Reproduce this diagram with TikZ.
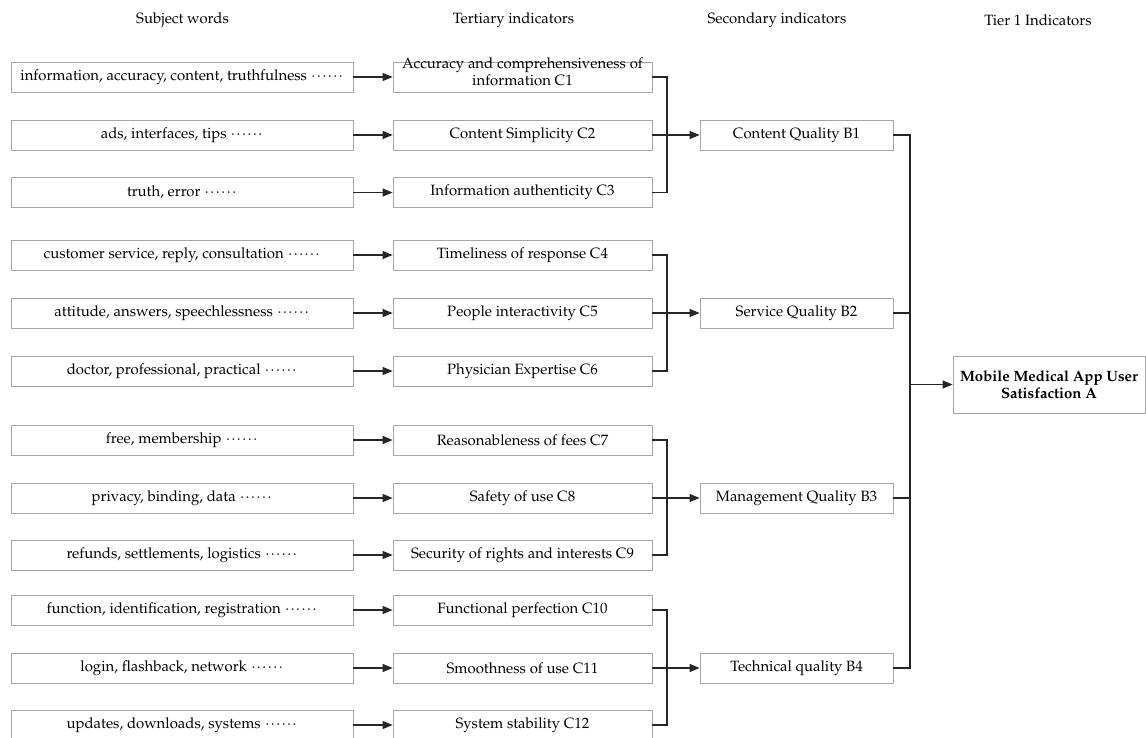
\documentclass[tikz,border=0pt]{standalone}
\usepackage[T1]{fontenc}
\usepackage{mathpazo}
\usetikzlibrary{arrows.meta}
\newcommand{\sixdots}{\mbox{\foreach \k in {1,...,6}{\makebox[4.1pt]{$\cdot$}}}}
\begin{document}
\begin{tikzpicture}[x=0.75pt,y=-0.75pt,
  every node/.style={font=\fontsize{11.2}{13}\selectfont},
  box/.style={draw=black!35,line width=0.6pt,inner sep=0pt,minimum height=22.5pt,align=center},
  lbox/.style={box,minimum width=256.5pt},
  cbox/.style={box,minimum width=194.25pt},
  bbox/.style={box,minimum width=144.75pt},
  abox/.style={box,minimum width=144pt,minimum height=42.75pt,font=\fontsize{11.2}{13}\selectfont\bfseries},
  head/.style={inner sep=0pt},
  conn/.style={draw=black!85,line width=0.9pt},
  arr/.style={conn,-{Triangle[length=7.5pt,width=6pt]}}]
\useasboundingbox (0,0) rectangle (1146,738);

\node[head] (h1) at (182.5,20) {Subject words};
\node[head] (h2) at (513.5,20) {Tertiary indicators};
\node[head] (h3) at (777,20) {Secondary indicators};
\node[head] (h4) at (1038,20) {Tier 1 Indicators};

% subject words
\node[lbox] (l1) at (182,77) {information, accuracy, content, truthfulness \sixdots};
\node[lbox] (l2) at (182,135) {ads, interfaces, tips \sixdots};
\node[lbox] (l3) at (182,192.5) {truth, error \sixdots};
\node[lbox] (l4) at (182,255) {customer service, reply, consultation \sixdots};
\node[lbox] (l5) at (182,313) {attitude, answers, speechlessness \sixdots};
\node[lbox] (l6) at (182,371) {doctor, professional, practical \sixdots};
\node[lbox] (l7) at (182,440) {free, membership \sixdots};
\node[lbox] (l8) at (182,498) {privacy, binding, data \sixdots};
\node[lbox] (l9) at (182,555) {refunds, settlements, logistics \sixdots};
\node[lbox] (l10) at (182,610) {function, identification, registration \sixdots};
\node[lbox] (l11) at (182,668) {login, flashback, network \sixdots};
\node[lbox] (l12) at (182,725) {updates, downloads, systems \sixdots};

% tertiary
\node[cbox] (c1) at (522.5,77) {\smash{\begin{tabular}{@{}c@{}}Accuracy and comprehensiveness of\\information C1\end{tabular}}};
\node[cbox] (c2) at (522.5,135) {Content Simplicity C2};
\node[cbox] (c3) at (522.5,192.5) {Information authenticity C3};
\node[cbox] (c4) at (522.5,255) {Timeliness of response C4};
\node[cbox] (c5) at (522.5,313) {People interactivity C5};
\node[cbox] (c6) at (522.5,371) {Physician Expertise C6};
\node[cbox] (c7) at (522.5,440) {Reasonableness of fees C7};
\node[cbox] (c8) at (522.5,498) {Safety of use C8};
\node[cbox] (c9) at (522.5,555) {Security of rights and interests C9};
\node[cbox] (c10) at (522.5,610) {Functional perfection C10};
\node[cbox] (c11) at (522.5,668) {Smoothness of use C11};
\node[cbox] (c12) at (522.5,725) {System stability C12};

% secondary
\node[bbox] (b1) at (796.5,135) {Content Quality B1};
\node[bbox] (b2) at (796.5,313) {Service Quality B2};
\node[bbox] (b3) at (796.5,498) {Management Quality B3};
\node[bbox] (b4) at (796.5,668) {Technical quality B4};

% tier 1
\node[abox] (a) at (1049,384.5) {Mobile Medical App User\\Satisfaction A};

% subject -> tertiary
\foreach \i in {1,...,12} {\draw[arr] (l\i.east) -- (c\i.west);}

% brackets tertiary -> secondary
\coordinate (j1) at (667,135);
\coordinate (j2) at (667,313);
\coordinate (j3) at (667,498);
\coordinate (j4) at (667,668);
\draw[conn] (c1.east) -| (j1) |- (c3.east);
\draw[conn] (c4.east) -| (j2) |- (c6.east);
\draw[conn] (c7.east) -| (j3) |- (c9.east);
\draw[conn] (c10.east) -| (j4) |- (c12.east);
\draw[arr] (c2.east) -- (b1.west);
\draw[arr] (c5.east) -- (b2.west);
\draw[arr] (c8.east) -- (b3.west);
\draw[arr] (c11.east) -- (b4.west);

% secondary -> tier 1
\coordinate (ja) at (910,384.5);
\draw[conn] (b1.east) -| (ja) |- (b4.east);
\draw[conn] (b2.east) -- (b2.east -| ja);
\draw[conn] (b3.east) -- (b3.east -| ja);
\draw[arr] (ja) -- (a.west);
\end{tikzpicture}
\end{document}
